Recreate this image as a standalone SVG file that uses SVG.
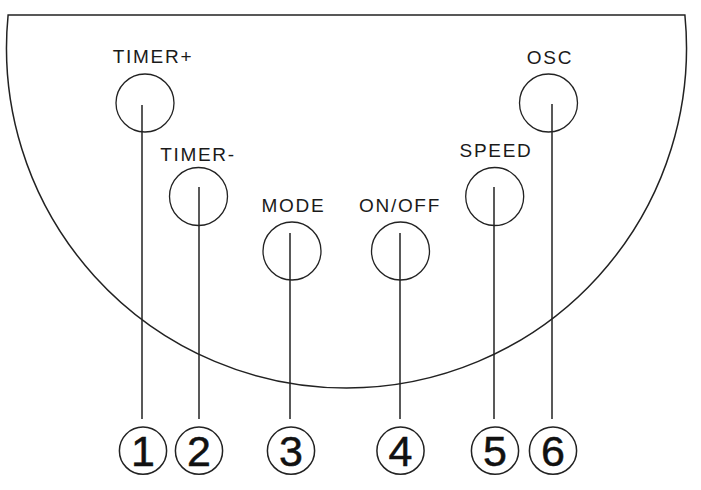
<svg xmlns="http://www.w3.org/2000/svg" width="701" height="490" viewBox="0 0 701 490">
<style>
.ln{fill:none;stroke:#222;stroke-width:1.5}
.btn{fill:none;stroke:#222;stroke-width:1.3}
.lbl{font-family:"Liberation Sans",Arial,sans-serif;font-size:19px;letter-spacing:1.7px;fill:#1a1a1a;text-anchor:middle}
.num{font-family:"Liberation Sans",Arial,sans-serif;font-size:43px;fill:#111;stroke:#111;stroke-width:0.5;text-anchor:middle}
.nc{fill:none;stroke:#222;stroke-width:1.5}
</style>
<rect width="701" height="490" fill="#fff"/>
<g id="panel">
<path class="ln" d="M 8.1 15 L 684.9 15 A 340 340 0 1 1 8.1 15 Z"/>
</g>
<g id="connectors">
<line class="ln" x1="142" y1="105" x2="142" y2="419"/>
<line class="ln" x1="199" y1="187" x2="199" y2="419"/>
<line class="ln" x1="290" y1="233" x2="290" y2="419"/>
<line class="ln" x1="400" y1="233" x2="400" y2="419"/>
<line class="ln" x1="494" y1="187" x2="494" y2="419"/>
<line class="ln" x1="552" y1="104" x2="552" y2="419"/>
</g>
<g id="timer-plus">
<text class="lbl" x="153" y="63">TIMER+</text>
<circle class="btn" cx="145" cy="103" r="29"/>
</g>
<g id="timer-minus">
<text class="lbl" x="198" y="160.5">TIMER-</text>
<circle class="btn" cx="198.5" cy="196.5" r="29"/>
</g>
<g id="mode">
<text class="lbl" x="293.5" y="212">MODE</text>
<circle class="btn" cx="292" cy="251" r="29"/>
</g>
<g id="onoff">
<text class="lbl" x="400" y="212">ON/OFF</text>
<circle class="btn" cx="400.5" cy="251" r="29"/>
</g>
<g id="speed">
<text class="lbl" x="496" y="157">SPEED</text>
<circle class="btn" cx="494.7" cy="196.5" r="29"/>
</g>
<g id="osc">
<text class="lbl" x="550" y="64">OSC</text>
<circle class="btn" cx="548.5" cy="103" r="29"/>
</g>
<g id="n1"><circle class="nc" cx="143" cy="450.7" r="23.6"/><text class="num" x="143" y="466">1</text></g>
<g id="n2"><circle class="nc" cx="199" cy="450.7" r="23.6"/><text class="num" x="199" y="466">2</text></g>
<g id="n3"><circle class="nc" cx="291" cy="450.7" r="23.6"/><text class="num" x="291" y="466">3</text></g>
<g id="n4"><circle class="nc" cx="400.5" cy="450.7" r="23.6"/><text class="num" x="400.5" y="466">4</text></g>
<g id="n5"><circle class="nc" cx="495" cy="450.7" r="23.6"/><text class="num" x="495" y="466">5</text></g>
<g id="n6"><circle class="nc" cx="553" cy="450.7" r="23.6"/><text class="num" x="553" y="466">6</text></g>
</svg>
